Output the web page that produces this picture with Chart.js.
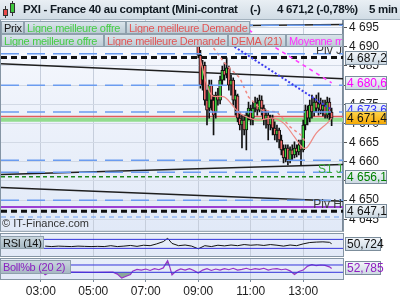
<!DOCTYPE html>
<html lang="fr">
<head>
<meta charset="utf-8">
<title>PXI - France 40</title>
<script src="https://cdn.jsdelivr.net/npm/chart.js@4.4.0/dist/chart.umd.min.js"></script>
<style>
  html, body { margin: 0; padding: 0; }
  body { width: 400px; height: 300px; position: relative; overflow: hidden; background: #fff;
         font-family: "Liberation Sans", Arial, sans-serif; }
  canvas { position: absolute; left: 0; }
  #grapheCours { top: 0; }
  #grapheRsi { top: 226px; }
  #grapheBoll { top: 252px; }
  #titre { position: absolute; left: 0; top: 0; width: 400px; height: 20px; box-sizing: border-box;
           background: linear-gradient(#e9eff4, #d1dce5); border-bottom: 1px solid #a3b2be; }
  #titre span { position: absolute; top: 3px; font-size: 11.5px; font-weight: bold; color: #111a22;
                white-space: nowrap; letter-spacing: -0.3px; }
  .corps { position: absolute; border: 1px solid #333; box-sizing: border-box; }
  .meche { position: absolute; width: 1px; background: #333; }
  .boite { position: absolute; height: 13px; line-height: 12px; font-size: 11px; box-sizing: border-box;
           background: linear-gradient(#dae4eb, #bccbd5); border: 1px solid #8fa0ad; padding-left: 2px;
           white-space: nowrap; overflow: hidden; color: #111; letter-spacing: -0.3px; }
  .vert { color: #44cc44; }
  .rouge { color: #e05656; }
  .magenta { color: #ff2eff; }
  .violet { color: #8a22c0; }
  #copyright { position: absolute; left: 2px; top: 217px; font-size: 11px; color: #333; }
</style>
</head>
<body>
<canvas id="grapheCours" width="400" height="240"></canvas>
<canvas id="grapheRsi" width="400" height="38"></canvas>
<canvas id="grapheBoll" width="400" height="48"></canvas>

<div id="titre">
  <div class="meche" style="left:5px;top:6px;height:12px"></div>
  <div class="corps" style="left:3px;top:9px;width:5px;height:7px;background:#e84848"></div>
  <div class="meche" style="left:12px;top:1px;height:15px"></div>
  <div class="corps" style="left:10px;top:3px;width:5px;height:10px;background:#3cc83c"></div>
  <span style="left:23px">PXI - France 40 au comptant (Mini-contrat</span>
  <span style="left:250px">(-)</span>
  <span style="left:277px">4 671,2 (-0,78%)</span>
  <span style="left:369px">5 min</span>
</div>

<div class="boite" style="left:1px;top:21px;width:23px">Prix</div>
<div class="boite vert" style="left:24px;top:21px;width:102px">Ligne meilleure offre</div>
<div class="boite rouge" style="left:126px;top:21px;width:124px">Ligne meilleure Demande</div>
<div class="boite vert" style="left:1px;top:34px;width:103px">Ligne meilleure offre</div>
<div class="boite rouge" style="left:104px;top:34px;width:124px">Ligne meilleure Demande</div>
<div class="boite rouge" style="left:228px;top:34px;width:58px">DEMA (21)</div>
<div class="boite magenta" style="left:286px;top:34px;width:57px">Moyenne mobile</div>

<div id="copyright">© IT-Finance.com</div>
<div class="boite" style="left:0;top:236px;width:44px;height:13px;background:linear-gradient(#c9d6de,#a6b8c3)">RSI (14)</div>
<div class="boite violet" style="left:0;top:260px;width:71px;height:14px;background:linear-gradient(#c9d6de,#a6b8c3)">Boll%b (20 2)</div>

<script>
// Bornes de l'axe du temps
const debutAxe = '01:29';
const finAxe = '14:31';
const heuresGraduees = ['03:00', '05:00', '07:00', '09:00', '11:00', '13:00'];
const graduationsCours = [4645, 4650, 4655, 4660, 4665, 4670, 4675, 4680, 4685, 4690, 4695];

// Bougies 5 min
const heuresBougies = ['09:00','09:05','09:10','09:15','09:20','09:25','09:30','09:35','09:40','09:45',
  '09:50','09:55','10:00','10:05','10:10','10:15','10:20','10:25','10:30','10:35',
  '10:40','10:45','10:50','10:55','11:00','11:05','11:10','11:15','11:20','11:25',
  '11:30','11:35','11:40','11:45','11:50','11:55','12:00','12:05','12:10','12:15',
  '12:20','12:25','12:30','12:35','12:40','12:45','12:50','12:55','13:00','13:05',
  '13:10','13:15','13:20','13:25','13:30','13:35','13:40','13:45','13:50','13:55',
  '14:00','14:05'];
const ouvertures = [4690.4,4687.8,4681.3,4685.2,4676.1,4674.0,4680.0,4676.1,4673.0,4677.4,
  4676.1,4681.3,4683.9,4682.9,4684.5,4680.0,4681.3,4676.1,4677.2,4671.4,
  4669.6,4670.9,4668.3,4672.2,4673.5,4671.4,4674.0,4675.3,4673.5,4676.1,
  4674.0,4670.9,4672.2,4669.6,4671.4,4668.8,4667.0,4668.3,4665.7,4663.1,
  4661.0,4663.6,4660.5,4663.1,4661.8,4663.6,4662.6,4664.4,4663.1,4669.6,
  4673.5,4671.4,4674.8,4673.0,4675.6,4674.0,4675.1,4673.5,4674.6,4672.2,
  4675.6,4673.0];
const hauts = [4692.3,4689.1,4686.5,4686.0,4678.7,4681.3,4681.3,4677.4,4678.2,4679.2,
  4682.4,4685.0,4685.8,4687.1,4685.0,4682.6,4681.9,4678.7,4677.7,4673.0,
  4672.2,4672.2,4673.0,4675.6,4674.8,4675.6,4676.9,4676.6,4677.4,4677.2,
  4674.8,4673.5,4673.0,4672.2,4672.2,4670.4,4669.6,4668.8,4667.0,4664.4,
  4664.4,4664.4,4663.9,4664.4,4665.2,4664.4,4665.7,4665.7,4670.9,4674.8,
  4674.6,4676.1,4677.4,4676.6,4677.4,4678.0,4676.6,4676.1,4676.1,4676.9,
  4676.6,4674.0];
const bas = [4687.1,4679.2,4678.7,4674.8,4669.6,4671.4,4673.5,4667.0,4671.4,4674.8,
  4675.1,4680.0,4681.3,4681.9,4678.7,4677.4,4674.8,4672.2,4670.4,4668.3,
  4663.6,4667.0,4663.1,4670.9,4669.6,4669.6,4673.0,4672.2,4673.0,4672.2,
  4669.6,4668.8,4665.7,4668.3,4667.0,4665.7,4665.2,4663.6,4661.8,4659.7,
  4660.0,4659.2,4659.7,4660.5,4661.0,4661.3,4661.8,4659.2,4662.6,4668.3,
  4669.6,4670.4,4671.4,4672.0,4673.0,4672.2,4672.5,4672.0,4671.4,4671.4,
  4670.9,4669.4];
const clotures = [4687.8,4680.0,4685.2,4676.1,4673.5,4680.0,4676.1,4672.2,4677.4,4676.1,
  4681.3,4683.9,4682.6,4684.5,4680.0,4681.3,4676.1,4677.4,4671.4,4669.6,
  4670.9,4668.3,4672.2,4674.0,4670.9,4674.0,4675.6,4673.5,4676.1,4674.0,
  4670.9,4672.2,4669.6,4671.4,4668.8,4667.0,4668.3,4665.7,4663.1,4661.0,
  4663.6,4660.5,4663.1,4661.8,4663.6,4662.6,4664.4,4663.1,4669.6,4673.5,
  4671.4,4674.8,4673.0,4675.6,4674.0,4675.1,4673.5,4674.8,4672.2,4675.6,
  4673.0,4671.4];

// DEMA (21) et moyenne lente
const heuresDema = ['09:05','09:30','10:00','10:35','11:15','11:50','12:15','12:40','13:00','13:10','13:30','13:55','14:05'];
const dema = [4686.5,4677.4,4676.9,4672.7,4670.9,4671.4,4670.1,4666.5,4663.6,4663.9,4667.5,4670.1,4671.4];
const heuresMoyLente = ['09:35','10:00','10:35','10:55','11:25','12:00','12:30','12:55','13:05'];
const moyLente = [4689.7,4685.8,4681.9,4676.9,4673.5,4673.0,4669.1,4667.0,4665.2];

// Moyenne mobile (magenta) et droite bleue pointillée
const heuresMoyenne = ['10:25','11:55','14:05'];
const moyenne = [4696.7,4689.9,4680.6];
const heuresBleue = ['10:00','14:05'];
const droiteBleue = [4691.7,4673.6];

// Niveaux horizontaux
const niveauxBleus = [4695.6,4688.2,4680.0,4673.0,4660.4,4657.3,4650.0];
const niveauBleuFin = 4645.6;
const pivotJ = 4687.2;
const pivotH = 4647.1;
const s1J = 4656.1;
const niveauViolet = 4648.2;
const meilleureOffre = 4671.0;
const meilleureDemande = 4671.8;

// Droites de tendance noires : [valeur au début, valeur à la fin]
const droitesNoires = [[4694.9,4695.8],[4685.6,4681.7],[4656.7,4659.3],[4653.3,4649.7]];

// RSI (14)
const heuresRsi = ['03:10','03:25','03:40','03:55','04:10','04:25','04:40','04:55','05:10','05:25',
  '05:40','05:55','06:10','06:25','06:40','06:55','07:10','07:25','07:40','07:50',
  '08:00','08:15','08:30','08:45','09:00','09:15','09:30','09:45','10:00','10:15',
  '10:30','10:45','11:00','11:15','11:30','11:45','12:00','12:15','12:30','12:45',
  '13:00','13:15','13:30','13:45','14:00','14:05'];
const rsi = [40,38,40,39,38,40,39,38,39,38,
  42,38,40,43,39,44,42,50,60,75,
  52,42,45,40,28,42,38,44,41,45,
  42,47,44,46,43,47,44,40,45,42,
  50,56,58,59,57,50.724];
const niveauxRsi = [70, 30];

// Boll%b (20 2)
const heuresBoll = ['03:05','03:10','03:20','04:00','05:00','05:45','05:55','06:05','06:15','06:25',
  '06:30','06:40','06:50','07:00','07:10','07:20','07:30','07:40','07:50','07:55',
  '08:00','08:10','08:20','08:30','08:40','08:50','09:00','09:10','09:20','09:30',
  '09:40','09:50','10:00','10:10','10:20','10:30','10:40','10:50','11:00','11:10',
  '11:20','11:30','11:40','11:50','12:00','12:10','12:20','12:30','12:40','12:50',
  '13:00','13:10','13:20','13:30','13:40','13:50','14:00','14:05'];
const bollB = [0,-35,0,2,0,2,-25,-80,-55,-30,
  15,40,30,45,25,50,35,60,160,70,
  -35,20,45,30,50,25,-10,30,50,25,
  45,30,50,35,55,30,40,55,35,50,
  40,55,30,45,50,35,45,20,-30,10,
  30,85,105,90,100,95,75,52.785];
const niveauxBoll = [100, 0];

// ---- outils ----
function enMinutes(h) {
    const [hh, mm] = h.split(':');
    return Number(hh) * 60 + Number(mm);
}
function formatFr(v, decimales) {
    const [e, f] = v.toFixed(decimales).split('.');
    return e.replace(/\B(?=(\d{3})+(?!\d))/g, ' ') + (f ? ',' + f : '');
}
function points(heures, valeurs) {
    return heures.map((h, i) => ({ x: enMinutes(h), y: valeurs[i] }));
}
function horizontale(v) {
    return [{ x: enMinutes(debutAxe), y: v }, { x: enMinutes(finAxe), y: v }];
}
function ligne(data, couleur, largeur, tirets) {
    return { type: 'line', data: data, borderColor: couleur, borderWidth: largeur,
             borderDash: tirets || [], pointRadius: 0, fill: false, tension: 0 };
}

const police = '"Liberation Sans", Arial, sans-serif';
Chart.defaults.font.family = police;

// Fond dégradé, cadre, textes et étiquettes de valeur
const panneau = {
    id: 'panneau',
    beforeDraw(chart, args, opts) {
        const { ctx, chartArea: a } = chart;
        const g = ctx.createLinearGradient(0, a.top, 0, a.bottom);
        g.addColorStop(0, opts.fondHaut);
        g.addColorStop(1, opts.fondBas);
        ctx.save();
        ctx.fillStyle = g;
        ctx.fillRect(a.left, a.top, a.right - a.left, a.bottom - a.top);
        ctx.restore();
    },
    afterDraw(chart, args, opts) {
        const { ctx, chartArea: a } = chart;
        const echelle = chart.scales.y;
        ctx.save();
        ctx.strokeStyle = '#8595a4';
        ctx.lineWidth = 1;
        ctx.strokeRect(a.left - 0.5, a.top - 0.5, a.right - a.left + 1, a.bottom - a.top + 1);

        ctx.font = '12px ' + police;
        ctx.textAlign = 'right';
        ctx.textBaseline = 'bottom';
        (opts.textes || []).forEach(t => {
            ctx.fillStyle = t.couleur;
            ctx.fillText(t.texte, a.right - 1, echelle.getPixelForValue(t.valeur) - 1);
        });

        ctx.textAlign = 'left';
        ctx.textBaseline = 'middle';
        (opts.etiquettes || []).forEach(e => {
            const py = Math.round(echelle.getPixelForValue(e.valeur));
            const g = ctx.createLinearGradient(0, py - 7, 0, py + 7);
            g.addColorStop(0, e.orange ? '#ffd54d' : '#f5f8fb');
            g.addColorStop(1, e.orange ? '#f4a600' : '#cad7e1');
            ctx.fillStyle = g;
            ctx.fillRect(345, py - 7, opts.largeur, 14);
            ctx.strokeStyle = '#7c8d9b';
            ctx.strokeRect(345.5, py - 6.5, opts.largeur - 1, 13);
            ctx.fillStyle = e.couleur;
            ctx.fillText(formatFr(e.valeur, opts.decimales), 347, py + 0.5);
        });
        ctx.restore();
    }
};

function axeTemps(hauteur, avecLibelles) {
    return {
        type: 'linear',
        min: enMinutes(debutAxe),
        max: enMinutes(finAxe),
        offset: false,
        afterBuildTicks: s => { s.ticks = heuresGraduees.map(h => ({ value: enMinutes(h) })); },
        afterFit: s => { s.height = hauteur; },
        grid: { color: '#c6cedc', offset: false, drawTicks: avecLibelles, tickLength: 3, tickColor: '#7d8b99' },
        border: { display: false },
        ticks: {
            display: avecLibelles,
            autoSkip: false,
            maxRotation: 0,
            padding: 2,
            color: '#222',
            font: { size: 12 },
            callback: v => heuresGraduees.find(h => enMinutes(h) === v) || ''
        }
    };
}

const optionsCommunes = {
    responsive: false,
    animation: false,
    events: [],
    devicePixelRatio: 1
};

// ---- graphique principal ----
const derniereCloture = clotures[clotures.length - 1];
const bougies = heuresBougies.map((h, i) => ({ x: enMinutes(h), y: [ouvertures[i], clotures[i]] }));
const meches = heuresBougies.map((h, i) => ({ x: enMinutes(h), y: [bas[i], hauts[i]] }));
const couleursBougies = heuresBougies.map((h, i) => clotures[i] >= ouvertures[i] ? '#3dd23d' : '#f26d6d');

const jeuxCours = [
    ligne(points(heuresBleue, droiteBleue), '#3c3cf0', 2, [2, 2]),
    ligne(points(heuresMoyenne, moyenne), '#ff3cff', 1.5, [4, 4]),
    ...niveauxBleus.map(v => ligne(horizontale(v), '#6b9cf0', 1.5, [18, 8])),
    ligne(horizontale(niveauBleuFin), '#6b9cf0', 1, [5, 4]),
    Object.assign(ligne(points(heuresDema, dema), '#ee8a84', 1.2), { tension: 0.35 }),
    ligne(points(heuresMoyLente, moyLente), '#f08a84', 1.5, [3, 3]),
    {
        type: 'bar', data: bougies, grouped: false, barThickness: 3,
        backgroundColor: couleursBougies, borderColor: '#111', borderWidth: 1, borderSkipped: false
    },
    {
        type: 'bar', data: meches, grouped: false, barThickness: 1,
        backgroundColor: '#111', borderWidth: 0
    },
    ligne(horizontale(meilleureDemande), '#e35a5a', 1.5),
    ligne(horizontale(meilleureOffre), '#92dc8e', 4),
    ligne(horizontale(pivotJ), '#111', 3, [6, 4]),
    ligne(horizontale(pivotH), '#111', 3, [6, 4]),
    ligne(horizontale(s1J), '#1d8a1d', 1.5, [4, 3]),
    ligne(horizontale(niveauViolet), '#9a3fd4', 2),
    ...droitesNoires.map(d => ligne([{ x: enMinutes(debutAxe), y: d[0] }, { x: enMinutes(finAxe), y: d[1] }], '#1e1e1e', 1.5))
];

new Chart(document.getElementById('grapheCours'), {
    type: 'bar',
    data: { datasets: jeuxCours },
    options: Object.assign({}, optionsCommunes, {
        layout: { padding: { top: 20, bottom: 9, left: 1, right: 0 } },
        plugins: {
            legend: { display: false },
            tooltip: { enabled: false },
            panneau: {
                fondHaut: '#f7f9fe', fondBas: '#e1e9f7', largeur: 42, decimales: 1,
                textes: [
                    { valeur: pivotJ, texte: 'Piv J', couleur: '#3c3c3c' },
                    { valeur: s1J, texte: 'S1 J', couleur: '#3aab3a' },
                    { valeur: pivotH, texte: 'Piv H', couleur: '#3c3c3c' }
                ],
                etiquettes: [
                    { valeur: pivotJ, couleur: '#111' },
                    { valeur: moyenne[moyenne.length - 1], couleur: '#ff00ff' },
                    { valeur: droiteBleue[droiteBleue.length - 1], couleur: '#3434ff' },
                    { valeur: derniereCloture, couleur: '#111', orange: true },
                    { valeur: s1J, couleur: '#008000' },
                    { valeur: pivotH, couleur: '#111' }
                ]
            }
        },
        scales: {
            x: axeTemps(0, false),
            y: {
                type: 'linear',
                position: 'right',
                min: 4642,
                max: 4697,
                afterBuildTicks: s => { s.ticks = graduationsCours.map(v => ({ value: v })); },
                afterFit: s => { s.width = 57; },
                grid: { color: '#d2d9e5', tickLength: 4, tickColor: '#555' },
                border: { display: true, color: '#7b8a99', width: 1.5 },
                ticks: {
                    autoSkip: false,
                    padding: 2,
                    color: '#1a1a1a',
                    font: { size: 12 },
                    callback: v => formatFr(v, 0)
                }
            }
        }
    }),
    plugins: [panneau]
});

// ---- RSI ----
new Chart(document.getElementById('grapheRsi'), {
    type: 'line',
    data: {
        datasets: [
            ...niveauxRsi.map(v => ligne(horizontale(v), '#3434dc', 1)),
            ligne(points(heuresRsi, rsi), '#111', 1)
        ]
    },
    options: Object.assign({}, optionsCommunes, {
        layout: { padding: { top: 8, bottom: 8, left: 1, right: 57 } },
        plugins: {
            legend: { display: false },
            tooltip: { enabled: false },
            panneau: { fondHaut: '#e8eef9', fondBas: '#e2e9f7', largeur: 36, decimales: 3,
                       etiquettes: [{ valeur: rsi[rsi.length - 1], couleur: '#111' }] }
        },
        scales: {
            x: axeTemps(0, false),
            y: { display: false, min: -4, max: 94 }
        }
    }),
    plugins: [panneau]
});

// ---- Boll%b ----
const remplissage = 'rgba(100,140,112,0.7)';
new Chart(document.getElementById('grapheBoll'), {
    type: 'line',
    data: {
        datasets: [
            ...niveauxBoll.map(v => ligne(horizontale(v), '#3434dc', 1)),
            Object.assign(ligne(points(heuresBoll, bollB), '#9632c8', 1.2),
                { fill: { target: { value: 0 }, above: 'rgba(0,0,0,0)', below: remplissage } }),
            Object.assign(ligne(points(heuresBoll, bollB), 'rgba(0,0,0,0)', 0),
                { fill: { target: { value: 100 }, above: remplissage, below: 'rgba(0,0,0,0)' } })
        ]
    },
    options: Object.assign({}, optionsCommunes, {
        layout: { padding: { top: 7, bottom: 0, left: 1, right: 57 } },
        plugins: {
            legend: { display: false },
            tooltip: { enabled: false },
            panneau: { fondHaut: '#e8eef9', fondBas: '#e2e9f7', largeur: 36, decimales: 3,
                       etiquettes: [{ valeur: bollB[bollB.length - 1], couleur: '#9020c0' }] }
        },
        scales: {
            x: axeTemps(21, true),
            y: { display: false, min: -92, max: 182 }
        }
    }),
    plugins: [panneau]
});
</script>
</body>
</html>
